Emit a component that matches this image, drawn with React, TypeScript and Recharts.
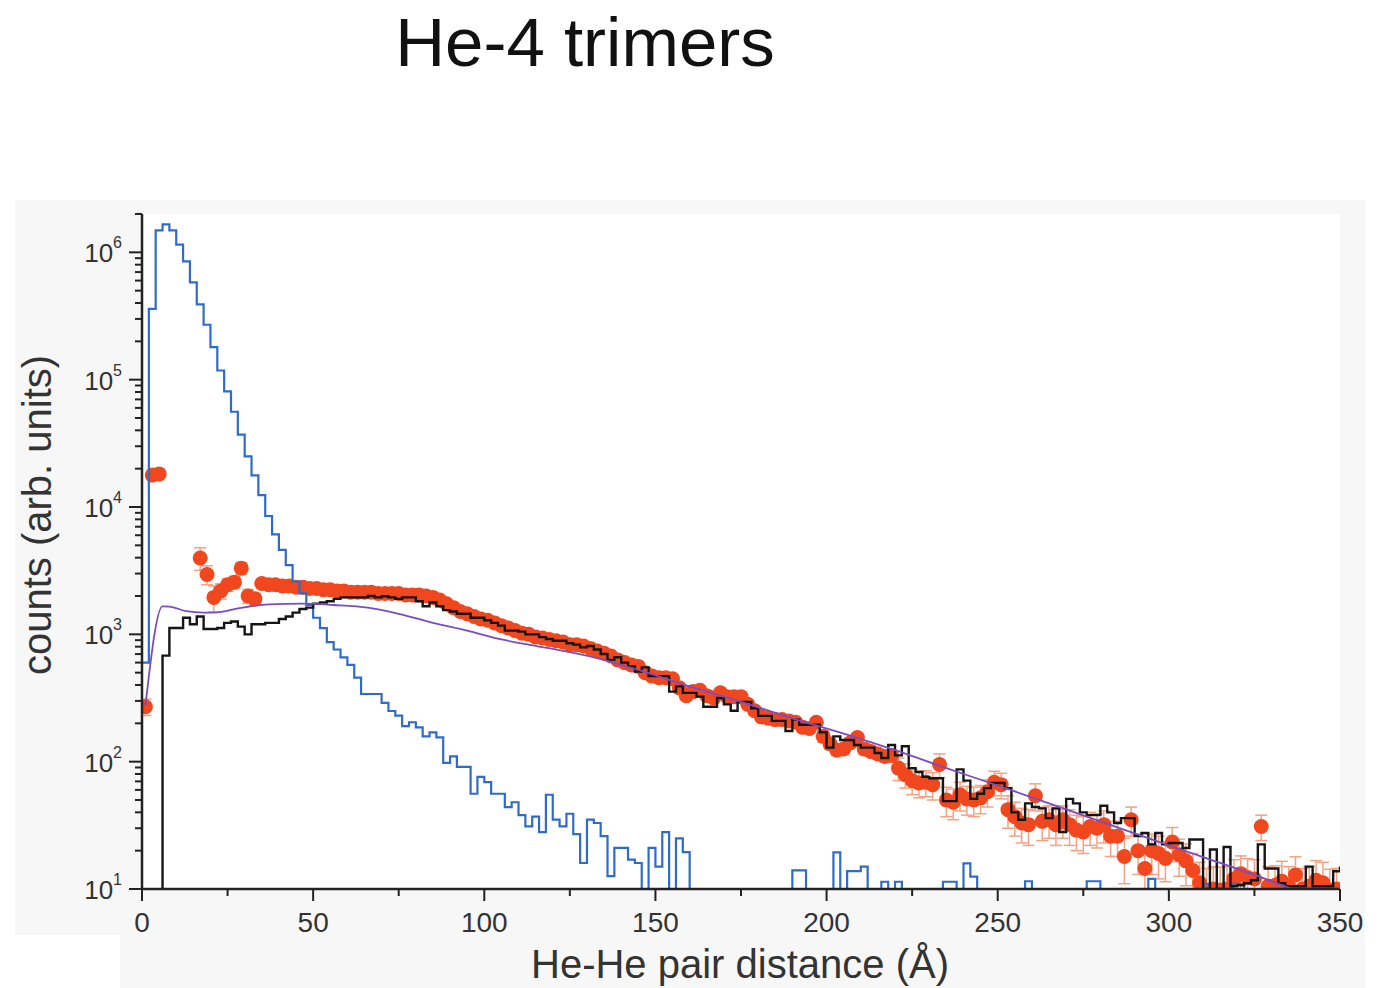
import React from "react"
import {
  ComposedChart,
  Line,
  Scatter,
  ErrorBar,
  XAxis,
  YAxis,
  CartesianGrid,
} from "recharts"

const FONT = "'Liberation Sans', Arial, Helvetica, sans-serif"

// histograms use 2 Å bins, value = counts in [x, x + 2)
const BIN = 2

// blue histogram, bins starting at 0 Å (1 = empty bin, below the axis)
const blueStart = 0
const blueCounts = [
  600, 360000, 1490000, 1660000, 1490000, 1150000, 850000, 580000, 390000, 270000,
  180000, 118000, 81000, 56000, 37000, 25000, 17700, 12400, 8500, 6100,
  4600, 3500, 2600, 2100, 1700, 1350, 1120, 870, 760, 660,
  575, 457, 340, 340, 340, 290, 250, 230, 190, 204,
  186, 158, 170, 155, 98, 110, 91, 91, 56, 76,
  69, 56, 56, 44, 48, 38, 31, 37, 28, 55,
  35, 31, 39, 27, 16, 35, 33, 26, 12.6, 21,
  21, 17, 16, 1, 21, 15, 28, 1, 25, 19.5,
  1, 1, 1, 1, 1, 1, 1, 1, 1, 1, 1, 1, 1, 1, 1,
  14, 14, 1, 1, 1, 1, 19.4, 1, 13.8, 13.8, 15, 1, 1, 11.4, 1, 11.4,
  1, 1, 1, 1, 1, 1, 11.4, 11.4, 1, 15.9, 12.5,
  1, 1, 1, 1, 1, 1, 1, 11.5, 1, 1, 1, 1, 1, 1, 1, 1, 11.5, 11.5,
  1, 1, 1, 1, 1, 1, 1, 12, 1, 1, 1, 1, 1, 1, 1, 11, 1, 1, 1, 11, 11,
  1, 1, 1, 1, 1, 1, 1, 1, 1, 1, 1, 1, 1, 1,
]

// black histogram, bins starting at 4 Å
const blackStart = 4
const blackCounts = [
  1, 680, 1120, 1120, 1350, 1200, 1380, 1100, 1100, 1120,
  1230, 1260, 1150, 1000, 1200, 1200, 1230, 1230, 1320, 1380,
  1480, 1580, 1620, 1740, 1780, 1820, 1900, 1950, 1950, 1950,
  1950, 2000, 1950, 1990, 1950, 1900, 1950, 1950, 1820, 1660,
  1780, 1660, 1550, 1510, 1450, 1450, 1350, 1350, 1290, 1230,
  1170, 1070, 1070, 1050, 1000, 1000, 950, 920, 890, 890,
  850, 830, 790, 810, 760, 700, 630, 660, 600, 560,
  510, 550, 470, 470, 470, 355, 390, 347, 347, 324,
  270, 270, 316, 282, 251, 295, 295, 263, 229, 229,
  209, 209, 174, 214, 195, 195, 195, 170, 129, 158,
  148, 148, 135, 129, 129, 117, 107, 135, 112, 132,
  89, 83, 76, 74, 74, 49, 49, 87, 71, 51,
  56, 62, 68, 68, 62, 40, 35, 47, 44, 43,
  36, 43, 28, 51, 47, 40, 38, 38, 45, 40,
  33, 36, 36, 26, 27.5, 22.4, 27.5, 22.4, 23, 23,
  21, 24.5, 24.5, 10, 20.4, 10, 21.4, 10.5, 10.7, 11.1,
  11.7, 22.4, 14.5, 14.5, 11.1, 10.5, 10.5, 10.5, 15, 10.5,
  10.5, 10.5, 13.8,
]
const blackEnd = 15

// purple model curve
const fitDist = [1, 6, 8, 13, 18, 22, 28, 37, 47, 56, 66, 75, 85, 95, 105, 115, 125, 135, 145, 160, 175, 190, 205, 220, 235, 250, 265, 280, 295, 310, 325, 336]
const fitCounts = [275, 1660, 1650, 1520, 1480, 1490, 1600, 1720, 1740, 1700, 1620, 1450, 1230, 1070, 912, 813, 725, 630, 525, 390, 295, 219, 166, 123, 89, 65, 47, 34, 24.5, 17.8, 12.9, 10]

// red measured points with error bars
const redDist = [
  1, 3, 5, 17, 19, 21, 23, 25, 27, 29, 31, 33, 35, 37, 39, 41, 43, 45, 47, 49,
  51, 53, 55, 57, 59, 61, 63, 65, 67, 69, 71, 73, 75, 77, 79, 81, 83, 85, 87, 89,
  91, 93, 95, 97, 99, 101, 103, 105, 107, 109, 111, 113, 115, 117, 119, 121, 123, 125, 127, 129,
  131, 133, 135, 137, 139, 141, 143, 145, 147, 149, 151, 153, 155, 157, 159, 161, 163, 165, 167, 169,
  171, 173, 175, 177, 179, 181, 183, 185, 187, 189, 191, 193, 195, 197, 199, 201, 203, 205, 207, 209,
  211, 213, 215, 217, 219, 221, 223, 225, 227, 229, 231, 233, 235, 237, 239, 241, 243, 245, 247, 249,
  251, 253, 255, 257, 259, 261, 263, 265, 267, 269, 271, 273, 275, 277, 279, 281, 283, 285, 287, 289,
  291, 293, 295, 297, 299, 301, 303, 305, 307, 309, 311, 313, 315, 317, 319, 321, 323, 325, 327, 329,
  331, 333, 335, 337, 339, 341, 343, 345, 347, 349,
]
const redCounts = [
  270, 17800, 18200, 3980, 2950, 1950, 2190, 2450, 2570, 3310, 2000, 1900, 2510, 2450, 2450, 2400, 2400, 2340, 2340, 2290,
  2290, 2240, 2240, 2190, 2190, 2140, 2140, 2140, 2140, 2090, 2090, 2090, 2090, 2040, 2040, 2040, 2000, 1950, 1860, 1740,
  1620, 1510, 1450, 1380, 1320, 1290, 1230, 1170, 1120, 1070, 1020, 1000, 955, 935, 910, 890, 870, 830, 830, 810,
  775, 740, 710, 675, 630, 600, 575, 560, 500, 470, 457, 457, 447, 380, 330, 355, 363, 330, 316, 347,
  324, 324, 324, 282, 251, 224, 219, 214, 214, 209, 204, 186, 182, 204, 158, 138, 123, 126, 141, 155,
  126, 120, 115, 110, 112, 89, 79, 71, 68, 69, 66, 95, 50, 48, 55, 51, 50, 52, 58, 69,
  66, 42, 37, 33, 32, 54, 34, 35, 32, 35, 32, 29, 28, 31, 30, 32, 26, 26, 18, 35,
  20, 14.5, 20, 19, 17.4, 23.4, 18.6, 16.6, 14, 11.2, 9.5, 10, 9.8, 10, 12, 13.2, 12.3, 12, 31, 10.5,
  10.7, 11.5, 10.5, 12.9, 10, 10.5, 11.7, 11.2, 9.8, 10,
]
const redErr = [
  40, 1200, 1200, 800, 500, 450, 300, 280, 280, 350, 250, 200, 95, 90, 90, 90, 90, 85, 85, 85,
  85, 80, 80, 80, 80, 80, 80, 80, 80, 75, 75, 75, 75, 75, 75, 75, 75, 70, 70, 65,
  60, 60, 55, 55, 50, 50, 50, 45, 45, 45, 40, 40, 40, 40, 38, 36, 35, 35, 34, 32,
  32, 31, 30, 28, 27, 26, 25, 24, 30, 28, 28, 28, 28, 25, 22, 24, 24, 22, 21, 22,
  21, 21, 21, 20, 18, 17, 16, 15, 15, 15, 15, 14, 14, 14, 16, 12, 11, 10, 10, 11,
  12, 10, 10, 10, 10, 18, 17, 16, 16, 16, 16, 20, 13, 13, 14, 13, 13, 13, 14, 15,
  15, 12, 11, 10, 10, 13, 10, 10, 10, 10, 10, 9, 9, 9, 9, 9, 8, 8, 7, 9,
  7, 6, 7, 7, 6, 7, 6, 6, 5, 5, 5, 5, 5, 5, 5, 5, 5, 5, 7, 4.5,
  4.5, 5, 4.5, 5, 4.5, 4.5, 5, 5, 4.5, 4.5,
]

const xTicks = [0, 25, 50, 75, 100, 125, 150, 175, 200, 225, 250, 275, 300, 325, 350]
const yDecades = [10, 100, 1000, 10000, 100000, 1000000]
const yMinorSteps = [2, 3, 4, 5, 6, 7, 8, 9]

const yTicks: number[] = []
yDecades.forEach((d) => {
  yTicks.push(d)
  if (d < 1000000) yMinorSteps.forEach((m) => yTicks.push(d * m))
})
yTicks.push(2000000)

const blueData = blueCounts.map((y, i) => ({ x: blueStart + i * BIN, y }))
blueData.push({ x: 350, y: blueCounts[blueCounts.length - 1] })
const blackData = blackCounts.map((y, i) => ({ x: blackStart + i * BIN, y }))
blackData.push({ x: 350, y: blackEnd })
const fitData = fitDist.map((x, i) => ({ x, y: fitCounts[i] }))
const redData = redDist.map((x, i) => ({ x, y: redCounts[i], err: redErr[i] }))

const AXIS = "#222"

// plot box in page pixels (chart svg sits at 0,0)
const PLOT = { left: 142, top: 214, right: 1340, bottom: 889 }

function XTick({ x, y, payload }: any) {
  const major = payload.value % 50 === 0
  return (
    <g>
      <line x1={x} x2={x} y1={y} y2={y + (major ? 12 : 7)} stroke={AXIS} strokeWidth={2} />
      {major && (
        <text x={x} y={y + 43} textAnchor="middle" fontSize={28} fill="#333" fontFamily={FONT}>
          {payload.value}
        </text>
      )}
    </g>
  )
}

function YTick({ x, y, payload }: any) {
  const lg = Math.log10(payload.value)
  const exp = Math.round(lg)
  const major = Math.abs(lg - exp) < 1e-6
  return (
    <g>
      <line x1={x - (major ? 13 : 7)} x2={x} y1={y} y2={y} stroke={AXIS} strokeWidth={2} />
      {major && (
        <text x={x - 20} y={y + 10} textAnchor="end" fontSize={26} fill="#333" fontFamily={FONT}>
          10
          <tspan dy={-14} fontSize={16}>
            {exp}
          </tspan>
        </text>
      )}
    </g>
  )
}

const RedDot = (p: any) => <circle cx={p.cx} cy={p.cy} r={7.5} fill="#f0471e" />

export default function App() {
  return (
    <div style={{ position: "absolute", left: 0, top: 0, width: 1389, height: 988, background: "#fff" }}>
      <style>{`.recharts-errorBar { clip-path: url(#plot-clip); }`}</style>
      <svg width={0} height={0} style={{ position: "absolute" }}>
        <defs>
          <clipPath id="plot-clip" clipPathUnits="userSpaceOnUse">
            <rect x={PLOT.left} y={PLOT.top} width={PLOT.right - PLOT.left} height={PLOT.bottom - PLOT.top} />
          </clipPath>
        </defs>
      </svg>
      <div style={{ position: "absolute", left: 15, top: 200, width: 1350, height: 735, background: "#f7f7f7" }} />
      <div style={{ position: "absolute", left: 120, top: 935, width: 1245, height: 53, background: "#f7f7f7" }} />
      <div style={{ position: "absolute", left: 0, top: 0 }}>
        <ComposedChart width={1389} height={988} margin={{ top: PLOT.top, right: 1389 - PLOT.right, bottom: 0, left: 0 }}>
          <CartesianGrid horizontal={false} vertical={false} fill="#ffffff" stroke="none" />
          <XAxis
            type="number"
            dataKey="x"
            domain={[0, 350]}
            ticks={xTicks}
            interval={0}
            tick={<XTick />}
            tickLine={false}
            tickSize={0}
            tickMargin={0}
            height={988 - PLOT.bottom}
            allowDataOverflow
            axisLine={{ stroke: AXIS, strokeWidth: 2.5 }}
          />
          <YAxis
            type="number"
            dataKey="y"
            scale="log"
            domain={[10, 2000000]}
            ticks={yTicks}
            interval={0}
            tick={<YTick />}
            tickLine={false}
            tickSize={0}
            tickMargin={0}
            width={PLOT.left}
            allowDataOverflow
            axisLine={{ stroke: AXIS, strokeWidth: 2.5 }}
          />
          <Scatter data={redData} shape={RedDot} isAnimationActive={false} zIndex={300}>
            <ErrorBar dataKey="err" direction="y" width={6} stroke="#f6a183" strokeWidth={1.5} zIndex={250} />
          </Scatter>
          <Line data={blueData} dataKey="y" type="stepAfter" stroke="#2f6cc9" strokeWidth={2.2} dot={false} isAnimationActive={false} />
          <Line data={blackData} dataKey="y" type="stepAfter" stroke="#151515" strokeWidth={2.4} dot={false} isAnimationActive={false} />
          <Line data={fitData} dataKey="y" type="monotone" stroke="#7a4cc4" strokeWidth={1.8} dot={false} isAnimationActive={false} />
        </ComposedChart>
      </div>
      <svg width={1389} height={988} style={{ position: "absolute", left: 0, top: 0, pointerEvents: "none" }}>
        <text x={585} y={66} textAnchor="middle" fontSize={69} fill="#111" fontFamily={FONT}>
          He-4 trimers
        </text>
        <text x={740} y={978} textAnchor="middle" fontSize={40} fill="#333" fontFamily={FONT}>
          He-He pair distance (Å)
        </text>
        <text transform="translate(51,515) rotate(-90)" textAnchor="middle" fontSize={40} fill="#333" fontFamily={FONT}>
          counts (arb. units)
        </text>
      </svg>
    </div>
  )
}
